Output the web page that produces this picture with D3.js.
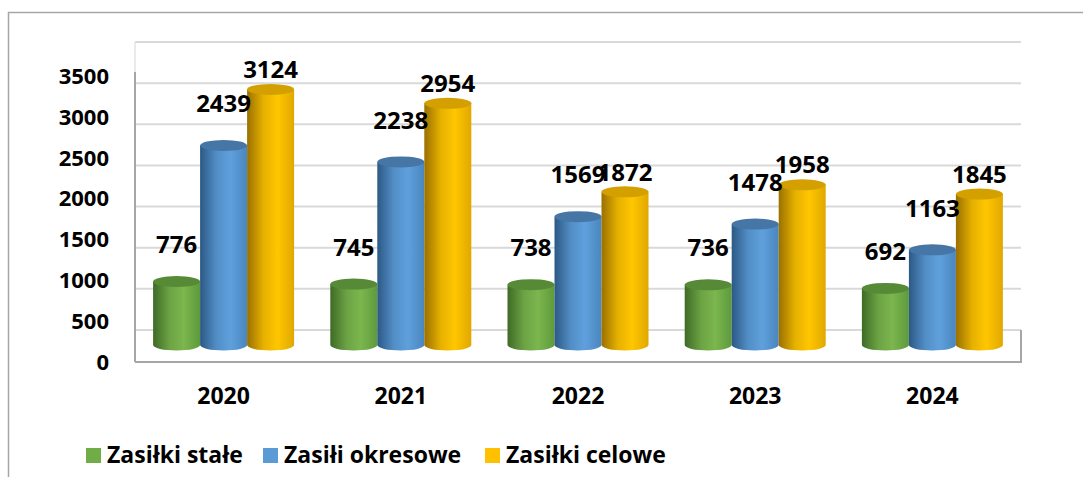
<!DOCTYPE html>
<html>
<head>
<meta charset="utf-8">
<script src="https://cdn.jsdelivr.net/npm/d3@7"></script>
<style>
  body { margin: 0; background: #fff; }
  svg { display: block; font-family: "Open Sans", Lato, sans-serif; font-weight: 700; }
</style>
</head>
<body>
<div id="chart"></div>
<script>
// data
const years = ["2020", "2021", "2022", "2023", "2024"];
const seriesNames = ["Zasiłki stałe", "Zasiłi okresowe", "Zasiłki celowe"];
const stale = [776, 745, 738, 736, 692];
const okresowe = [2439, 2238, 1569, 1478, 1163];
const celowe = [3124, 2954, 1872, 1958, 1845];
const axisTicks = [0, 500, 1000, 1500, 2000, 2500, 3000, 3500];
const gridTicks = [500, 1000, 1500, 2000, 2500, 3000, 3500, 4000];

const seriesValues = [stale, okresowe, celowe];

// colours per series: [dark edge, light, right edge, top]
const palette = [
  { dark: "#3f6a26", light: "#7bb64e", edge: "#5e9a3c", top: "#578a37", legend: "#70ad47" },
  { dark: "#2c5985", light: "#5fa0dc", edge: "#4a86bf", top: "#4676a6", legend: "#5b9bd5" },
  { dark: "#9a7000", light: "#ffc600", edge: "#e0a800", top: "#d3a000", legend: "#ffc000" }
];
const labelOffset = [37, 42, 20];

const width = 1083, height = 477;
const wallLeft = 135, wallRight = 1021;

const svg = d3.select("#chart").append("svg")
  .attr("width", width)
  .attr("height", height);

const defs = svg.append("defs");
palette.forEach(function (p, i) {
  const g = defs.append("linearGradient").attr("id", "cyl" + i)
    .attr("x1", "0%").attr("x2", "100%").attr("y1", "0%").attr("y2", "0%");
  g.append("stop").attr("offset", "0%").attr("stop-color", p.dark);
  g.append("stop").attr("offset", "35%").attr("stop-color", d3.interpolateRgb(p.dark, p.light)(0.75));
  g.append("stop").attr("offset", "65%").attr("stop-color", p.light);
  g.append("stop").attr("offset", "100%").attr("stop-color", p.edge);
});

// outer border (left + top)
svg.append("path")
  .attr("d", "M8.5," + height + "V12.5H" + width)
  .attr("fill", "none").attr("stroke", "#a6a6a6").attr("stroke-width", 1.5);

// scales
const x0 = d3.scaleBand().domain(years).range([wallLeft, wallRight]).padding(0);
const groupW = 141;
const x1 = d3.scaleBand().domain(d3.range(seriesNames.length)).range([0, groupW]).padding(0);
const gy = d3.scaleLinear().domain([0, 4000]).range([371, 42]);   // back wall grid
const ay = d3.scaleLinear().domain([0, 3500]).range([362, 76]);   // tick labels
const by = d3.scaleLinear().domain([0, 3500]).range([345, 58.7]); // bar tops

// gridlines on back wall
svg.append("g").selectAll("line").data(gridTicks).join("line")
  .attr("x1", wallLeft).attr("x2", wallRight)
  .attr("y1", d => gy(d)).attr("y2", d => gy(d))
  .attr("stroke", "#d9d9d9").attr("stroke-width", 2);

// left wall line
svg.append("line")
  .attr("x1", wallLeft).attr("x2", wallLeft).attr("y1", 42).attr("y2", 72)
  .attr("stroke", "#e3e3e3").attr("stroke-width", 1.5);
svg.append("line")
  .attr("x1", wallLeft).attr("x2", wallLeft).attr("y1", 72).attr("y2", 362)
  .attr("stroke", "#a6a6a6").attr("stroke-width", 2);

// floor
svg.append("path")
  .attr("d", "M" + wallLeft + ",362H" + wallRight + "V" + gy(500))
  .attr("fill", "none").attr("stroke", "#a6a6a6").attr("stroke-width", 2);

// y tick labels
svg.append("g").selectAll("text").data(axisTicks).join("text")
  .attr("x", 109).attr("y", d => ay(d)).attr("dy", "0.36em")
  .attr("text-anchor", "end").attr("font-size", 22)
  .text(d => d);

// x labels
svg.append("g").selectAll("text").data(years).join("text")
  .attr("x", d => x0(d) + x0.bandwidth() / 2).attr("y", 396).attr("dy", "0.36em")
  .attr("text-anchor", "middle").attr("font-size", 23)
  .text(d => d);

// cylinders
const rx = x1.bandwidth() / 2, ry = 5.5;
const bars = [];
years.forEach(function (yr, i) {
  seriesValues.forEach(function (vals, s) {
    const left = x0(yr) + (x0.bandwidth() - groupW) / 2 + x1(s);
    bars.push({ year: yr, s: s, v: vals[i], left: left, cx: left + rx });
  });
});

const cyl = svg.append("g").selectAll("g").data(bars).join("g");
cyl.append("path")
  .attr("d", function (d) {
    const top = by(d.v), base = by(0);
    return "M" + d.left + "," + top + "V" + base +
      "A" + rx + "," + ry + " 0 0 0 " + (d.left + 2 * rx) + "," + base +
      "V" + top + "Z";
  })
  .attr("fill", d => "url(#cyl" + d.s + ")");
cyl.append("ellipse")
  .attr("cx", d => d.cx).attr("cy", d => by(d.v))
  .attr("rx", rx).attr("ry", ry)
  .attr("fill", d => palette[d.s].top);

// value labels
svg.append("g").selectAll("text").data(bars).join("text")
  .attr("x", d => d.cx)
  .attr("y", d => by(d.v) - labelOffset[d.s]).attr("dy", "0.36em")
  .attr("text-anchor", "middle").attr("font-size", 24)
  .text(d => d.v);

// legend
const legendX = [86, 263, 485];
const legend = svg.append("g").selectAll("g").data(seriesNames).join("g")
  .attr("transform", (d, i) => "translate(" + legendX[i] + ",448)");
legend.append("rect").attr("width", 15).attr("height", 15)
  .attr("fill", (d, i) => palette[i].legend);
legend.append("text").attr("x", 21).attr("y", 15)
  .attr("font-size", 23)
  .text(d => d);
</script>
</body>
</html>
